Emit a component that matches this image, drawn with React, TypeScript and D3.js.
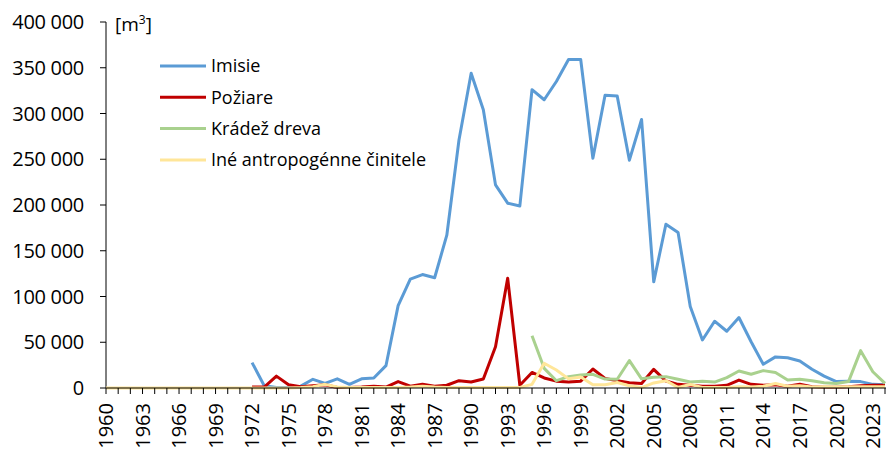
import React from "react";
import * as d3 from "d3";

const years: number[] = d3.range(1960, 2025);

const imisieYears = d3.range(1972, 2025);
const imisie = [27700, 2500, 500, 500, 2000, 9500, 5000, 10000, 4000, 10000, 11000, 24400, 90000, 119000, 124000, 120500, 167000, 271000, 344000,
  304000, 222000, 202000, 199000, 326000, 315000, 335000, 359000, 359000, 251000, 320000, 319000, 249000, 293500,
  116000, 179000, 170000, 89000, 52500, 73000, 62000, 77000, 50500, 26000, 34000, 33000, 29500, 20500, 13000, 7000, 7500, 7000, 4000, 3500];

const poziareYears = d3.range(1972, 2025);
const poziare = [1000, 1000, 13000, 3500, 1500, 2500, 3500, 500, 500, 1000, 2000, 1000, 7000, 2000, 4000, 2000, 3000, 8000, 6500,
  9800, 45000, 120000, 3000, 17000, 11000, 7500, 6500, 7500, 20700, 10500, 8000, 5800, 5000,
  20400, 7600, 4000, 3000, 2000, 2000, 3000, 8700, 4000, 3000, 3500, 2000, 4000, 1500, 800, 800, 1500, 2500, 3000, 3000];

const kradezYears = d3.range(1995, 2025);
const kradez = [57000, 21500, 8000, 12400, 14200, 15000, 9800, 9500, 30000, 10000, 11700, 12400, 9500, 6500, 7500, 6500, 11400, 18600,
  15000, 19000, 17000, 8700, 9500, 8000, 5800, 5000, 7000, 40800, 17800, 5000];

const ineYears = d3.range(1960, 2025);
const ine = [0, 0, 0, 0, 0, 0, 0, 0, 0, 0, 0, 0, 0, 0, 0, 0, 500, 1500, 4000, 1000, 500, 500, 500, 500, 500, 1000, 2000, 1000, 500, 500, 500,
  500, 500, 500, 500, 4000, 27000, 19700, 10000, 12000, 3500, 3500, 6000, 2500, 500,
  5500, 8000, 500, 4000, 500, 500, 500, 1500, 1000, 2000, 5000, 2000, 2500, 1000, 1500, 1000, 1500, 1500, 1500, 1500];

const seriesNames = ["Imisie", "Požiare", "Krádež dreva", "Iné antropogénne činitele"];
const seriesColors = ["#5B9BD5", "#C00000", "#A9D18E", "#FFE699"];
const yTicks = [0, 50000, 100000, 150000, 200000, 250000, 300000, 350000, 400000];

export default function App() {
  const W = 888, H = 450;
  const x = d3.scaleLinear().domain([1960, 2024]).range([106, 885]);
  const y = d3.scaleLinear().domain([0, 400000]).range([388, 22]);
  const fmt = (v: number) => d3.format(",")(v).replace(/,/g, " ");
  const font = "'Open Sans', sans-serif";

  const series = [
    { ys: imisieYears, vs: imisie },
    { ys: poziareYears, vs: poziare },
    { ys: kradezYears, vs: kradez },
    { ys: ineYears, vs: ine },
  ];
  const line = d3.line<[number, number]>().x(d => x(d[0])).y(d => y(d[1]));

  return (
    <svg width={W} height={H} style={{ position: "absolute", left: 0, top: 0, background: "#fff" }} fontFamily={font}>
      {/* y axis */}
      <line x1={106} x2={106} y1={22} y2={388} stroke="#000" strokeWidth={1} />
      {yTicks.map(t => (
        <g key={t}>
          <line x1={100} x2={106} y1={y(t)} y2={y(t)} stroke="#000" strokeWidth={1} />
          <text x={84} y={y(t)} dy="0.36em" textAnchor="end" fontSize={20} fill="#000" letterSpacing={-0.3}>{fmt(t)}</text>
        </g>
      ))}
      <text x={115} y={31} fontSize={19} fill="#000">[m<tspan dy={-7} fontSize={12}>3</tspan><tspan dy={7}>]</tspan></text>
      {/* lines */}
      {series.map((s, i) => (
        <path key={i} d={line(s.ys.map((yr, j) => [yr, s.vs[j]] as [number, number])) || ""} fill="none"
          stroke={seriesColors[i]} strokeWidth={3} strokeLinejoin="round" />
      ))}
      {/* x axis */}
      <line x1={106} x2={886} y1={388} y2={388} stroke="#000" strokeWidth={1} />
      {years.map(yr => (
        <line key={yr} x1={x(yr)} x2={x(yr)} y1={388} y2={394} stroke="#000" strokeWidth={1} />
      ))}
      {years.filter(yr => (yr - 1960) % 3 === 0).map(yr => (
        <text key={yr} transform={`translate(${x(yr)},403) rotate(-90)`} textAnchor="end" dy="0.36em" fontSize={20} fill="#000">{yr}</text>
      ))}
      {/* legend */}
      {seriesNames.map((n, i) => (
        <g key={n}>
          <line x1={160} x2={206} y1={66 + i * 31.3} y2={66 + i * 31.3} stroke={seriesColors[i]} strokeWidth={3} />
          <text x={211} y={66 + i * 31.3} dy="0.36em" fontSize={18} fill="#000">{n}</text>
        </g>
      ))}
    </svg>
  );
}
